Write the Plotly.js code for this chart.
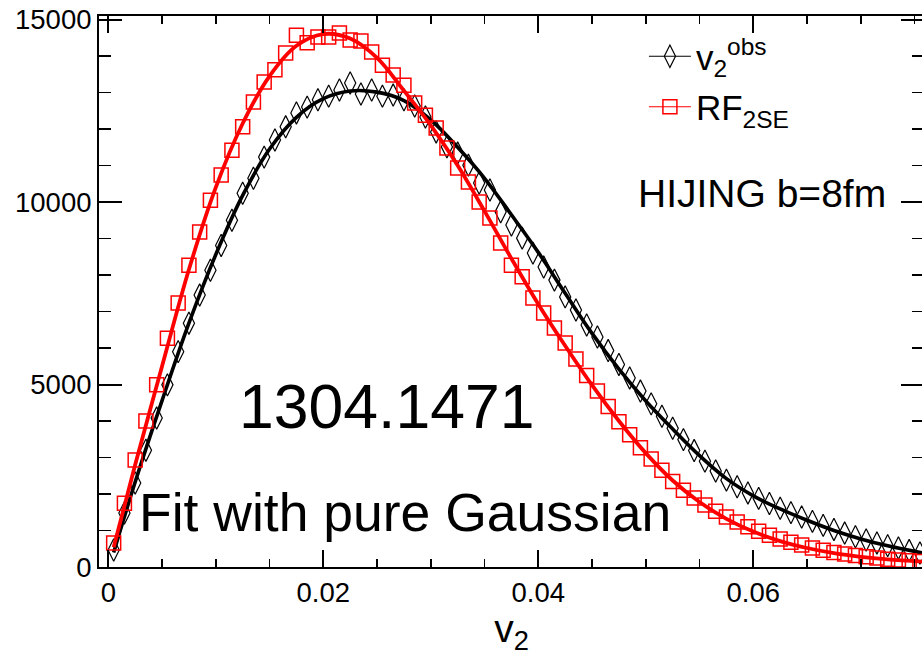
<!DOCTYPE html>
<html><head><meta charset="utf-8">
<script src="https://cdn.plot.ly/plotly-3.0.1.min.js"></script>
<style>html,body{margin:0;padding:0;overflow:hidden;background:#fff}#chart{width:925px;height:656px}</style>
</head><body><div id="chart"></div><script>
// bin centres of v2
const v2Centers = [0.0005,0.0015,0.0025,0.0035,0.0045,0.0055,0.0065,0.0075,0.0085,0.0095,
0.0105,0.0115,0.0125,0.0135,0.0145,0.0155,0.0165,0.0175,0.0185,0.0195,
0.0205,0.0215,0.0225,0.0235,0.0245,0.0255,0.0265,0.0275,0.0285,0.0295,
0.0305,0.0315,0.0325,0.0335,0.0345,0.0355,0.0365,0.0375,0.0385,0.0395,
0.0405,0.0415,0.0425,0.0435,0.0445,0.0455,0.0465,0.0475,0.0485,0.0495,
0.0505,0.0515,0.0525,0.0535,0.0545,0.0555,0.0565,0.0575,0.0585,0.0595,
0.0605,0.0615,0.0625,0.0635,0.0645,0.0655,0.0665,0.0675,0.0685,0.0695,
0.0705,0.0715,0.0725,0.0735,0.0745,0.0755];
// v2^obs distribution (black diamonds)
const v2Obs = [466,1480,2300,3200,4080,4990,5900,6680,7450,8130,
8810,9500,10240,10650,11230,11700,12060,12440,12600,12800,
12900,13070,13260,12960,13070,12900,12930,12800,12630,12330,
11920,11510,11340,11010,10520,10330,9730,9370,9010,8600,
8220,7860,7400,7040,6630,6300,5930,5550,5180,4820,
4470,4130,3800,3490,3190,2900,2630,2380,2200,2030,
1880,1740,1610,1490,1370,1250,1140,1030,930,830,
740,660,585,520,450,385];
// RF_2SE distribution (red squares)
const rf2se = [657,1750,2930,4000,4990,6270,7230,8270,9180,10050,
10740,11420,12060,12740,13290,13620,14080,14570,14360,14520,
14520,14630,14440,14410,14110,13750,13480,13200,12710,12380,
12030,11480,10930,10550,10000,9560,8880,8270,7950,7370,
6960,6550,6140,5700,5250,4820,4400,3980,3620,3270,
2960,2650,2340,2100,1890,1700,1530,1370,1230,1100,
980,870,770,680,600,520,460,400,355,315,
280,245,215,190,170,150];
// fit curves (pure Gaussian fits)
const fitX = [0.0005,0.0025,0.005,0.0075,0.01,0.0125,0.015,0.0175,0.02,0.0225,
0.025,0.0275,0.03,0.0325,0.035,0.0375,0.04,0.0425,0.045,0.0475,
0.05,0.0525,0.055,0.0575,0.06,0.0625,0.065,0.0675,0.07,0.0725,0.0758];
const fitObs = [400,2330,4560,6680,8560,10180,11450,12320,12830,13040,
13010,12780,12250,11500,10650,9650,8620,7500,6400,5420,
4550,3780,3050,2420,1950,1590,1280,1000,770,580,380];
const fitRF = [540,2800,5500,8150,10400,12150,13450,14280,14600,14480,
13950,13050,12100,11000,9750,8450,7200,6060,4980,4000,
3120,2370,1780,1320,970,710,520,380,280,210,148];
const xTickVals = [0,0.02,0.04,0.06];
const xTickText = ['0','0.02','0.04','0.06'];
const yTickVals = [0,5000,10000,15000];
const yTickText = ['0','5000','10000','15000'];
const legendNames = ['v<sub>2</sub><sup>obs</sup>','RF<sub>2SE</sub>'];

const FONT = 'Liberation Sans, Arial, Helvetica, sans-serif';

const traces = [
  {x: v2Centers, y: v2Obs, mode: 'markers', showlegend: false,
   marker: {symbol: 'diamond-tall-open', size: 16, color: '#000', line: {color: '#000', width: 1.2}}},
  {x: fitX, y: fitObs, mode: 'lines', showlegend: false, line: {color: '#000', width: 3.6, shape: 'spline'}},
  {x: v2Centers, y: rf2se, mode: 'markers', showlegend: false,
   marker: {symbol: 'square-open', size: 14, color: '#ff0000', line: {color: '#ff0000', width: 1.5}}},
  {x: fitX, y: fitRF, mode: 'lines', showlegend: false, line: {color: '#ff0000', width: 3.8, shape: 'spline'}},
  {x: [null], y: [null], mode: 'lines+markers', name: legendNames[0], legendgroup: 'a',
   line: {color: '#000', width: 1.2},
   marker: {symbol: 'diamond-tall-open', size: 16, color: '#000', line: {color: '#000', width: 1.2}}},
  {x: [null], y: [null], mode: 'lines+markers', name: legendNames[1], legendgroup: 'b',
   line: {color: '#ff0000', width: 1.2},
   marker: {symbol: 'square-open', size: 14, color: '#ff0000', line: {color: '#ff0000', width: 1.5}}}
];

const layout = {
  width: 925, height: 656,
  margin: {l: 99, r: 1, t: 16, b: 89, pad: 0},
  paper_bgcolor: '#fff', plot_bgcolor: '#fff',
  font: {family: FONT, color: '#000'},
  showlegend: true,
  legend: {x: 0.6605, y: 0.98, xanchor: 'left', yanchor: 'top', bgcolor: 'rgba(0,0,0,0)',
           itemwidth: 42,
           font: {family: FONT, size: 35, color: '#000'}, tracegroupgap: 2, traceorder: 'grouped'},
  xaxis: {range: [-0.000865, 0.07588], showgrid: false, zeroline: false,
          showline: true, linecolor: '#000', linewidth: 2, mirror: 'ticks',
          tickmode: 'array', tickvals: xTickVals, ticktext: xTickText,
          ticks: 'inside', ticklen: 17, tickwidth: 2, tickcolor: '#000',
          tickfont: {family: FONT, size: 27.5, color: '#000'},
          minor: {dtick: 0.005, tick0: 0, ticks: 'inside', ticklen: 8, tickwidth: 1.5, tickcolor: '#000'},
          title: {text: 'v<sub>2</sub>', font: {family: FONT, size: 39, color: '#000'}, standoff: 14}},
  yaxis: {range: [0, 15096], showgrid: false, zeroline: false,
          showline: true, linecolor: '#000', linewidth: 2, mirror: 'ticks',
          tickmode: 'array', tickvals: yTickVals, ticktext: yTickText,
          ticks: 'inside', ticklen: 23, tickwidth: 2, tickcolor: '#000',
          tickfont: {family: FONT, size: 27.5, color: '#000'},
          minor: {dtick: 1000, tick0: 0, ticks: 'inside', ticklen: 12, tickwidth: 1.5, tickcolor: '#000'}},
  annotations: [
    {text: '1304.1471', xref: 'paper', yref: 'paper', x: 0.3485, y: 0.2922, xanchor: 'center', yanchor: 'middle',
     showarrow: false, font: {family: FONT, size: 62.5, color: '#000'}},
    {text: 'Fit with pure Gaussian', xref: 'paper', yref: 'paper', x: 0.046, y: 0.099, xanchor: 'left', yanchor: 'middle',
     showarrow: false, font: {family: FONT, size: 53.5, color: '#000'}},
    {text: 'HIJING b=8fm', xref: 'paper', yref: 'paper', x: 0.651, y: 0.677, xanchor: 'left', yanchor: 'middle',
     showarrow: false, font: {family: FONT, size: 39, color: '#000'}}
  ]
};

Plotly.newPlot('chart', traces, layout, {displayModeBar: false, staticPlot: true});
</script></body></html>
